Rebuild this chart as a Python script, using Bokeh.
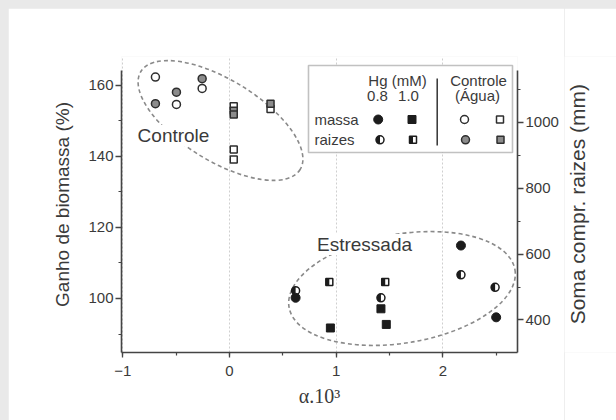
import math
from bokeh.plotting import figure
from bokeh.layouts import column, row
from bokeh.models import (Range1d, LinearAxis, SingleIntervalTicker, Label,
                          BoxAnnotation, ColumnDataSource, Spacer)
from bokeh.core.properties import value
from bokeh.embed import file_html
from bokeh.resources import INLINE

# ---------------- data ----------------
# x = alpha.10^3 ; "massa" on the left axis (%), "raizes" on the right axis (mm)
ctrl_circ_x = [-0.694, -0.497, -0.256]
ctrl_massa_circ = [162.3, 154.6, 159.1]          # Controle (agua) massa, circles
ctrl_raiz_circ = [1057, 1092, 1133]              # Controle (agua) raizes, circles
ctrl_massa_sq_x = [0.04, 0.04, 0.04, 0.385]
ctrl_massa_sq = [154.1, 141.9, 139.1, 153.3]     # Controle massa, squares
ctrl_raiz_sq_x = [0.04, 0.04, 0.385]
ctrl_raiz_sq = [1036, 1024, 1057]                # Controle raizes, squares
hg08_massa_x = [0.62, 2.17, 2.50]
hg08_massa = [100.2, 114.9, 94.7]                # Hg 0.8 mM massa
hg10_massa_x = [0.946, 1.42, 1.47]
hg10_massa = [91.7, 97.1, 92.7]                  # Hg 1.0 mM massa
hg08_raiz_x = [0.62, 1.42, 2.17, 2.49]
hg08_raiz = [489, 467, 537, 499]                 # Hg 0.8 mM raizes
hg10_raiz_x = [0.936, 1.46]
hg10_raiz = [515, 515]                           # Hg 1.0 mM raizes

x_ticks_interval = 1
left_ticks_interval = 20
right_ticks_interval = 200

# ---------------- layout ----------------
X0, X1 = -1.012, 2.70
Y0, Y_AX_TOP, Y1 = 84.8, 164.2, 168.1
R0, R_AX_TOP, R1 = 301, 1158, 1200.5
OFF = 8                       # grey band (left / top)
W, H = 556, 412               # main figure
WL = 616 - OFF - W            # narrow figure holding the right-axis title
BL, BR, BT, BB = 113, 47, 48, 68
FW, FH = W - BL - BR, H - BT - BB
PAGE_L, PAGE_T = OFF + BL, OFF + BT

def dxp(px):
    return X0 + (px - PAGE_L) * (X1 - X0) / FW

def dyp(py):
    return Y1 - (py - PAGE_T) * (Y1 - Y0) / FH

PX_PER_X = FW / (X1 - X0)

FONT = "Liberation Sans"
TXT = "#3a3a3a"
INK = "#1c1c1c"
EDGE = "#2e2e2e"
GRAYFILL = "#8c8c8c"

p = figure(width=W, height=H, x_range=Range1d(X0, X1), y_range=Range1d(Y0, Y1),
           output_backend="svg", toolbar_location=None,
           min_border_left=BL, min_border_right=BR, min_border_top=BT, min_border_bottom=BB,
           background_fill_color="white", border_fill_color="white",
           outline_line_color=None)
p.extra_y_ranges = {"roots": Range1d(R0, R1)}

def style_axis(ax):
    ax.axis_line_color = "#444444"
    ax.axis_line_width = 1.6
    ax.major_tick_line_color = "#444444"
    ax.minor_tick_line_color = "#444444"
    ax.major_tick_line_width = 1.3
    ax.minor_tick_line_width = 1.2
    ax.major_tick_in = 0
    ax.major_tick_out = 6
    ax.minor_tick_in = 0
    ax.minor_tick_out = 3
    ax.major_label_text_font = FONT
    ax.major_label_text_font_size = "15px"
    ax.major_label_text_color = TXT
    ax.axis_label_text_font = FONT
    ax.axis_label_text_font_size = "19px"
    ax.axis_label_text_font_style = "normal"
    ax.axis_label_text_color = TXT

p.xaxis.ticker = SingleIntervalTicker(interval=x_ticks_interval, num_minor_ticks=2)
p.yaxis.ticker = SingleIntervalTicker(interval=left_ticks_interval, num_minor_ticks=2)
style_axis(p.xaxis[0])
style_axis(p.yaxis[0])
p.yaxis.bounds = (Y0, Y_AX_TOP)
p.xaxis.major_tick_out = 5
p.xaxis.axis_label = "α.10³"
p.xaxis.axis_label_text_font = "Liberation Serif"
p.xaxis.axis_label_text_font_size = "20px"
p.xaxis.axis_label_standoff = 6
p.xaxis.major_label_standoff = 8
p.yaxis.axis_label = "Ganho de biomassa (%)"
p.yaxis.axis_label_standoff = 12
p.yaxis.major_label_standoff = 2

ax2 = LinearAxis(y_range_name="roots", bounds=(R0, R_AX_TOP),
                 ticker=SingleIntervalTicker(interval=right_ticks_interval, num_minor_ticks=2))
style_axis(ax2)
ax2.major_label_standoff = 2
p.add_layout(ax2, "right")

p.xgrid.ticker = SingleIntervalTicker(interval=x_ticks_interval)
p.xgrid.grid_line_color = "#cfcfcf"
p.xgrid.grid_line_dash = "2 2"
p.xgrid.grid_line_width = 1
p.ygrid.grid_line_color = None

# ---------------- dashed ellipses ----------------
p.ellipse(x=[dxp(220)], y=[dyp(120)], width=[187], height=[81],
          width_units="screen", height_units="screen", angle=-31.6, angle_units="deg",
          fill_color=None, line_color="#8a8a8a", line_width=1.6, line_dash="4 3")
p.ellipse(x=[dxp(401.5)], y=[dyp(288)], width=[229], height=[109],
          width_units="screen", height_units="screen", angle=9.4, angle_units="deg",
          fill_color=None, line_color="#8a8a8a", line_width=1.6, line_dash="4 3")

for txt, cx, cy in [("Controle", 173, 135), ("Estressada", 364, 244)]:
    p.add_layout(Label(x=dxp(cx), y=dyp(cy), text=txt, text_align="center",
                       text_baseline="middle", text_font=FONT, text_font_size="19px",
                       text_color=TXT, background_fill_color="white"))

# ---------------- marker helpers ----------------
CS, SS = 8, 7

def open_circle(x, y, rn="default"):
    p.scatter(x, y, marker="circle", size=CS, fill_color="white", line_color=EDGE,
              line_width=1.5, y_range_name=rn)

def gray_circle(x, y, rn="default"):
    p.scatter(x, y, marker="circle", size=CS, fill_color=GRAYFILL, line_color=EDGE,
              line_width=1.5, y_range_name=rn)

def open_square(x, y, rn="default"):
    p.scatter(x, y, marker="square", size=SS, fill_color="white", line_color=EDGE,
              line_width=1.5, y_range_name=rn)

def gray_square(x, y, rn="default"):
    p.scatter(x, y, marker="square", size=SS, fill_color=GRAYFILL, line_color=EDGE,
              line_width=1.5, y_range_name=rn)

def full_circle(x, y, rn="default"):
    p.scatter(x, y, marker="circle", size=CS + 1, fill_color=INK, line_color=INK,
              line_width=1, y_range_name=rn)

def full_square(x, y, rn="default"):
    p.scatter(x, y, marker="square", size=SS + 1, fill_color=INK, line_color=INK,
              line_width=1, y_range_name=rn)

def half_circle(x, y, rn="default"):
    p.scatter(x, y, marker="circle", size=CS, fill_color="white", line_color=None,
              y_range_name=rn)
    p.wedge(x, y, radius=CS / 2, radius_units="screen", start_angle=90, end_angle=270,
            start_angle_units="deg", end_angle_units="deg", direction="anticlock",
            fill_color=INK, line_color=None, y_range_name=rn)
    p.scatter(x, y, marker="circle", size=CS, fill_color=None, line_color=INK,
              line_width=1.5, y_range_name=rn)

def half_square(x, y, rn="default"):
    p.scatter(x, y, marker="square", size=SS, fill_color="white", line_color=None,
              y_range_name=rn)
    off = (SS / 4) / PX_PER_X
    p.rect([v - off for v in x], y, width=SS / 2, height=SS, width_units="screen",
           height_units="screen", fill_color=INK, line_color=None, y_range_name=rn)
    p.scatter(x, y, marker="square", size=SS, fill_color=None, line_color=INK,
              line_width=1.5, y_range_name=rn)

# ---------------- data marks ----------------
open_circle(ctrl_circ_x, ctrl_massa_circ)
gray_circle(ctrl_circ_x, ctrl_raiz_circ, "roots")
open_square(ctrl_massa_sq_x, ctrl_massa_sq)
gray_square(ctrl_raiz_sq_x, ctrl_raiz_sq, "roots")
half_circle(hg08_raiz_x, hg08_raiz, "roots")
half_square(hg10_raiz_x, hg10_raiz, "roots")
full_circle(hg08_massa_x, hg08_massa)
full_square(hg10_massa_x, hg10_massa)

# ---------------- legend (layout in page pixels) ----------------
LG_L, LG_R, LG_T, LG_B = 308, 512, 65, 152
p.add_layout(BoxAnnotation(left=dxp(LG_L), right=dxp(LG_R), top=dyp(LG_T), bottom=dyp(LG_B),
                           fill_color="white", fill_alpha=1.0, line_color="#333333",
                           line_width=1.6, level="underlay"))
p.segment(x0=[dxp(436.7)], y0=[dyp(78)], x1=[dxp(436.7)], y1=[dyp(145)],
          line_color="#333333", line_width=1.5)

centre_txt = ColumnDataSource(dict(
    x=[dxp(397), dxp(377), dxp(408), dxp(478), dxp(477)],
    y=[dyp(80), dyp(95), dyp(95), dyp(80), dyp(95)],
    t=["Hg (mM)", "0.8", "1.0", "Controle", "(Água)"]))
p.text("x", "y", "t", source=centre_txt, text_align="center", text_baseline="middle",
       text_font=value(FONT), text_font_size="15px", text_color=TXT)
left_txt = ColumnDataSource(dict(x=[dxp(314), dxp(314)], y=[dyp(119), dyp(138.5)],
                                 t=["massa", "raizes"]))
p.text("x", "y", "t", source=left_txt, text_align="left", text_baseline="middle",
       text_font=value(FONT), text_font_size="15px", text_color=TXT)

ly1, ly2 = dyp(119), dyp(139.3)
full_circle([dxp(377.7)], [ly1])
full_square([dxp(411.5)], [ly1])
half_circle([dxp(379.5)], [ly2])
half_square([dxp(412.5)], [ly2])
open_circle([dxp(464)], [ly1])
open_square([dxp(499.5)], [ly1])
gray_circle([dxp(465)], [ly2])
gray_square([dxp(500)], [ly2])

# ---------------- right-axis title (reads bottom-to-top) ----------------
q = figure(width=WL, height=H, x_range=Range1d(0, WL), y_range=Range1d(0, H),
           output_backend="svg", toolbar_location=None, min_border=0,
           x_axis_location=None, y_axis_location=None, outline_line_color=None,
           background_fill_color="white", border_fill_color="white")
q.xgrid.visible = False
q.ygrid.visible = False
q.text(x=[577 - OFF - W], y=[H - (213.5 - OFF)], text=["Soma compr. raizes (mm)"],
       angle=90, angle_units="deg", text_align="center", text_baseline="middle",
       text_font=value(FONT), text_font_size="21px", text_color=TXT)

page = column(Spacer(width=616, height=OFF),
              row(Spacer(width=OFF, height=H), p, q),
              styles={"background-color": "#e9e9e9"})

open("out.html", "w").write(file_html(page, INLINE))
